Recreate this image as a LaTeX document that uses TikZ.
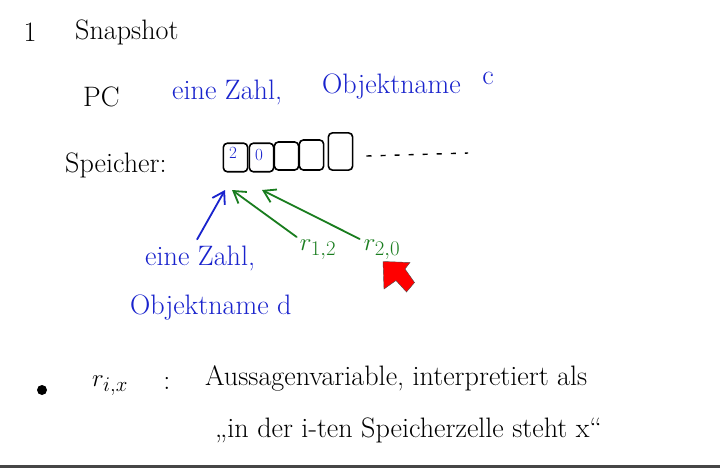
\documentclass[tikz,border=0pt]{standalone}
\usepackage{fontspec}
\usepackage{tikz}
\usetikzlibrary{arrows.meta,positioning,shapes}
\usepackage{xcolor}
\usepackage{amsmath}

\definecolor{penblue}{RGB}{25,35,205}
\definecolor{pengreen}{RGB}{25,125,30}
\definecolor{barcol}{RGB}{70,70,70}

\tikzset{
  hand/.style={font=\fontsize{28}{32}\selectfont, inner sep=0pt},
  bluehand/.style={hand, text=penblue},
  greenhand/.style={hand, text=pengreen},
  cell/.style={draw=black, line width=1.6pt, rounded corners=4pt, minimum width=0.85cm, inner sep=0pt},
  pen/.style={line width=1.8pt, line cap=round, -{Straight Barb[length=4mm,width=5mm]}}
}

\begin{document}
\begin{tikzpicture}[scale=0.35]
\useasboundingbox (0,0) rectangle (72,-46.8);
\fill [white] (0,0) rectangle (72,-46.8);
\fill [barcol] (0,-46.5) rectangle (72,-46.8);
% heading
\node [hand] (nr) at (3.0,-3.2) {1};
\node [hand, anchor=west] (title) at (7.5,-3.2) {Snapshot};
% program counter
\node [hand, anchor=west] (pc) at (8.3,-9.7) {PC};
\node [bluehand, anchor=west] (zahlA) at (17.2,-9.2) {eine Zahl,};
\node [bluehand, anchor=west] (objA) at (32.2,-8.7) {Objektname};
\node [bluehand] (nameC) at (48.8,-7.8) {c};
% memory
\node [hand, anchor=west] (mem) at (6.5,-16.5) {Speicher:};
\node [cell, minimum height=1.0cm] (c1) at (23.55,-15.75) {};
\node [cell, minimum height=1.0cm] (c2) at (26.15,-15.75) {};
\node [cell, minimum height=0.98cm] (c3) at (28.65,-15.6) {};
\node [cell, minimum height=1.05cm] (c4) at (31.15,-15.5) {};
\node [cell, minimum height=1.3cm] (c5) at (34.05,-15.15) {};
\node [text=penblue, font=\fontsize{17}{19}\selectfont, inner sep=0pt] (v1) at (23.3,-15.3) {2};
\node [text=penblue, font=\fontsize{17}{19}\selectfont, inner sep=0pt] (v2) at (25.9,-15.5) {0};
\coordinate (dotsend) at (46.8,-15.3);
\draw [line width=1.4pt, dash pattern=on 5pt off 9pt] ([xshift=1.3cm]c5.east |- c3.east) -- (dotsend);
% labels below
\node [bluehand, anchor=west] (zahlB) at (14.5,-25.8) {eine Zahl,};
\node [bluehand, anchor=west] (objB) at (13.0,-30.8) {Objektname d};
\node [greenhand] (r12) at (31.8,-25.0) {$r_{1,2}$};
\node [greenhand] (r20) at (38.2,-25.0) {$r_{2,0}$};
\coordinate (tgtA) at (22.5,-19.0);
\coordinate (tgtB) at (23.2,-19.0);
\coordinate (tgtC) at (26.2,-19.0);
\draw [pen, penblue] ([xshift=-0.3cm, yshift=0.6cm]zahlB.north) -- (tgtA);
\draw [pen, pengreen] ([xshift=-0.3cm, yshift=0.3cm]r12.north west) -- (tgtB);
\draw [pen, pengreen] ([xshift=-0.4cm, yshift=0.1cm]r20.north west) -- (tgtC);
% mouse pointer
\filldraw [fill=red, draw=black!70, line width=0.4pt] (38.3,-26.15) -- (41.0,-26.25) -- (40.5,-26.9) -- (41.45,-28.25) -- (40.65,-29.2) -- (39.6,-28.05) -- (38.4,-28.9) -- cycle;
% definition
\fill [black] (4.2,-39.0) circle (0.5);
\node [hand] (rix) at (11.0,-38.6) {$r_{i,x}$};
\node [hand] (colon) at (16.7,-38.3) {:};
\node [hand, anchor=west] (line1) at (20.5,-37.8) {Aussagenvariable, interpretiert als};
\node [hand, anchor=west] (line2) at (21.5,-43.0) {„in der i-ten Speicherzelle steht x“};
\end{tikzpicture}
\end{document}
